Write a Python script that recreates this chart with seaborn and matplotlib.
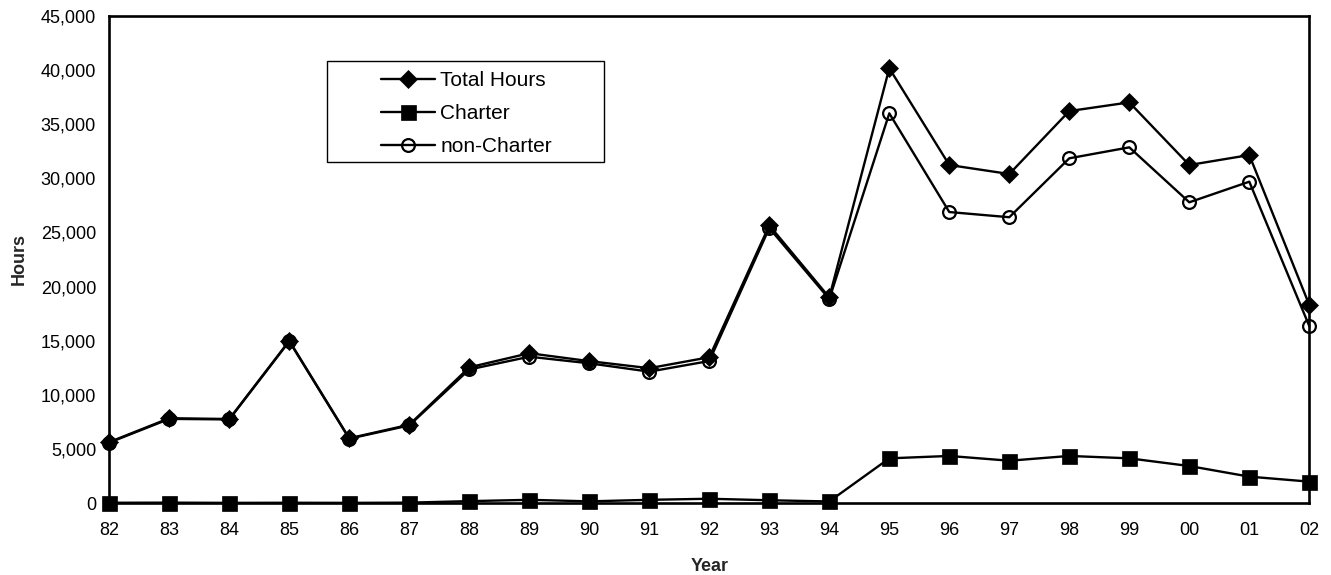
import matplotlib
matplotlib.use("Agg")
import matplotlib.pyplot as plt
from matplotlib.patches import Rectangle
from matplotlib.ticker import FuncFormatter, MultipleLocator
import seaborn as sns
import pandas as pd

# Flight hours by year
years = ["82", "83", "84", "85", "86", "87", "88", "89", "90", "91", "92",
         "93", "94", "95", "96", "97", "98", "99", "00", "01", "02"]
total_hours = [5650, 7850, 7780, 15000, 6000, 7250, 12550, 13850, 13120, 12470, 13480,
               25650, 19000, 40150, 31220, 30390, 36200, 37000, 31220, 32140, 18300]
charter = [50, 60, 40, 50, 40, 60, 200, 320, 180, 320, 420,
           280, 170, 4150, 4370, 3930, 4370, 4150, 3440, 2460, 2000]
non_charter = [5600, 7790, 7740, 14950, 5960, 7190, 12350, 13530, 12920, 12150, 13130,
               25400, 18850, 35990, 26880, 26400, 31840, 32850, 27780, 29680, 16350]
series_labels = ["Total Hours", "Charter", "non-Charter"]

df = pd.DataFrame({"Year": years, "total": total_hours,
                   "charter": charter, "non_charter": non_charter})

sns.set_theme(style="white")
plt.rcParams["font.family"] = ["Liberation Sans", "DejaVu Sans"]

fig = plt.figure(figsize=(13.31, 5.75), dpi=100)
ax = fig.add_axes([0.0821, 0.1247, 0.9016, 0.8480])

lw = 1.7
common = dict(color="black", linewidth=lw, clip_on=False, sort=False)
sns.lineplot(data=df, x="Year", y="total", marker="D", markersize=9.5,
             markeredgecolor="black", markerfacecolor="black", markeredgewidth=0.5,
             label=series_labels[0], ax=ax, **common)
sns.lineplot(data=df, x="Year", y="charter", marker="s", markersize=10.8,
             markeredgecolor="black", markerfacecolor="black", markeredgewidth=0.5,
             label=series_labels[1], ax=ax, **common)
sns.lineplot(data=df, x="Year", y="non_charter", marker="o", markersize=9.2,
             markeredgecolor="black", markerfacecolor="none", markeredgewidth=1.6,
             label=series_labels[2], ax=ax, **common)

ax.set_xlim(0, len(years) - 1)
ax.set_ylim(0, 45000)
ax.yaxis.set_major_locator(MultipleLocator(5000))
ax.yaxis.set_major_formatter(FuncFormatter(lambda v, p: f"{v:,.0f}"))

ax.set_xlabel("Year", fontsize=13, fontweight="bold", labelpad=14)
ax.set_ylabel("Hours", fontsize=13, fontweight="bold", labelpad=9)

ax.tick_params(axis="both", which="major", direction="out", length=4.5, width=1,
               color="black", labelsize=13, labelcolor="black")
ax.tick_params(axis="x", pad=9)
ax.tick_params(axis="y", pad=5)

for side in ["left", "right", "top", "bottom"]:
    ax.spines[side].set_visible(True)
    ax.spines[side].set_color("black")
    ax.spines[side].set_linewidth(1.9)

# Legend with a hand-sized frame
leg = ax.legend(loc="upper left", bbox_to_anchor=(0.2264, 0.8866), frameon=False,
                borderpad=0, borderaxespad=0, fontsize=15, handlelength=2.6,
                handletextpad=0.25, labelspacing=0.68)
for t in leg.get_texts():
    t.set_color("black")
ax.add_patch(Rectangle((0.1814, 0.6998), 0.2308, 0.2072, transform=ax.transAxes,
                       fill=False, edgecolor="black", linewidth=1.0, zorder=1))

fig.savefig("out.png", dpi=100, facecolor="white")
